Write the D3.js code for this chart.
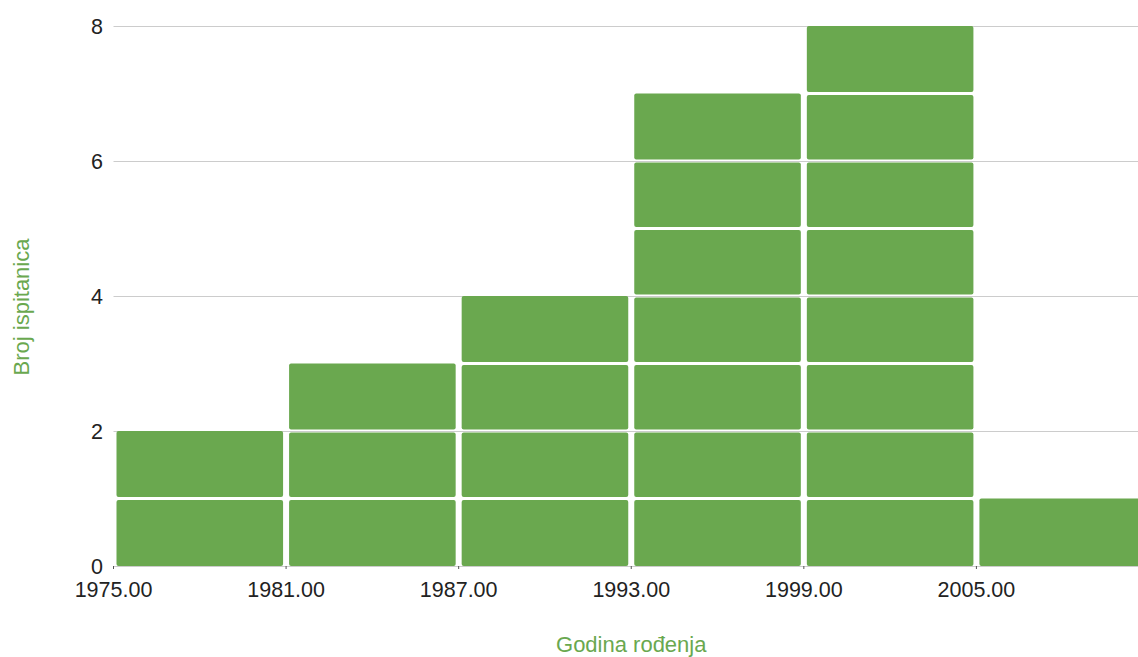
<!DOCTYPE html>
<html>
<head>
<meta charset="utf-8">
<script src="https://cdn.jsdelivr.net/npm/d3@7"></script>
<style>
  body { margin: 0; background: #fff; }
  text { font-family: "Liberation Sans", Arial, sans-serif; }
</style>
</head>
<body>
<div id="histogram"></div>
<script>
// histogram data (year bins of 6 years)
var binStarts = [1975, 1981, 1987, 1993, 1999, 2005];
var binSize = 6;
var counts = [2, 3, 4, 7, 8, 1];
var xTicks = [1975, 1981, 1987, 1993, 1999, 2005];
var yTicks = [0, 2, 4, 6, 8];
var xTitle = "Godina rođenja";
var yTitle = "Broj ispitanica";

function main() {

    var W = 1138, H = 657;
    var margin = {top: 26, left: 113.5, bottom: 91},
        height = H - margin.top - margin.bottom;

    var green = "#6aa84f";

    var svg = d3.select("#histogram")
        .append("svg")
        .attr("width", W)
        .attr("height", H);

    // x scale runs to 2011, plot is wider than the window so last bin gets cut
    var x = d3.scaleLinear()
        .domain([1975, 2011])
        .range([margin.left, 1149]);

    var y = d3.scaleLinear()
        .domain([0, 8])
        .range([margin.top + height, margin.top]);

    // gridlines
    svg.append("g")
        .selectAll("line")
        .data(yTicks)
        .join("line")
            .attr("x1", x(1975))
            .attr("x2", x(2011))
            .attr("y1", function (d) { return y(d) + 0.5; })
            .attr("y2", function (d) { return y(d) + 0.5; })
            .style("stroke", "#cccccc")
            .style("stroke-width", 1);

    // y tick labels
    svg.append("g")
        .selectAll("text")
        .data(yTicks)
        .join("text")
            .attr("x", 103)
            .attr("y", function (d) { return y(d); })
            .attr("dy", "0.36em")
            .attr("text-anchor", "end")
            .attr("font-size", "21.5px")
            .style("fill", "#222")
            .text(function (d) { return d; });

    // one rect per unit, stacked, with white gaps between them
    var units = [];
    binStarts.forEach(function (b, i) {
        for (var k = 0; k < counts[i]; k++) {
            units.push({start: b, k: k, n: counts[i]});
        }
    });

    var gap = 1.6;
    svg.append("g")
        .selectAll("rect")
        .data(units)
        .join("rect")
            .attr("x", function (d) { return x(d.start) + 3; })
            .attr("width", function (d) { return x(d.start + binSize) - x(d.start) - 6; })
            .attr("y", function (d) {
                return y(d.k + 1) + (d.k == d.n - 1 ? 0 : gap);
            })
            .attr("height", function (d) {
                var top = y(d.k + 1) + (d.k == d.n - 1 ? 0 : gap);
                var bottom = y(d.k) - (d.k == 0 ? 0 : gap);
                return bottom - top;
            })
            .attr("rx", 2)
            .style("fill", green);

    // x axis ticks + labels
    var xAxis = svg.append("g");
    xAxis.selectAll("line")
        .data(xTicks)
        .join("line")
            .attr("x1", function (d) { return x(d); })
            .attr("x2", function (d) { return x(d); })
            .attr("y1", y(0))
            .attr("y2", y(0) + 3)
            .style("stroke", "#555")
            .style("stroke-width", 1);
    xAxis.selectAll("text")
        .data(xTicks)
        .join("text")
            .attr("x", function (d) { return x(d); })
            .attr("y", 597)
            .attr("text-anchor", "middle")
            .attr("font-size", "21.5px")
            .style("fill", "#222")
            .text(d3.format(".2f"));

    // axis titles
    svg.append("text")
        .attr("x", (x(1975) + x(2011)) / 2)
        .attr("y", 652)
        .attr("text-anchor", "middle")
        .attr("font-size", "22px")
        .style("fill", green)
        .text(xTitle);

    svg.append("text")
        .attr("transform", "translate(29," + 307 + ") rotate(-90)")
        .attr("text-anchor", "middle")
        .attr("font-size", "22px")
        .style("fill", green)
        .text(yTitle);
}

main()
</script>
</body>
</html>
